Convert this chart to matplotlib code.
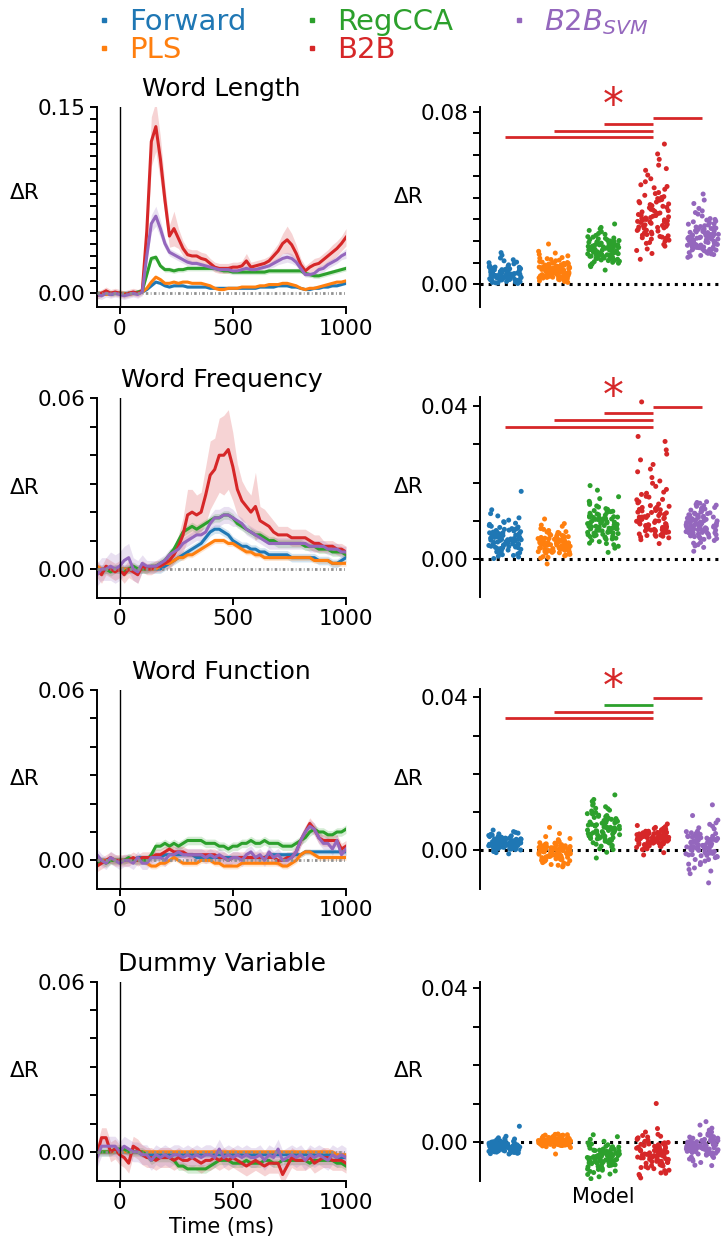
import numpy as np
import pandas as pd
import matplotlib
matplotlib.use('Agg')
import matplotlib.pyplot as plt
import seaborn as sns
from matplotlib.lines import Line2D

# ---------------- categories / labels ----------------
models = ['Forward', 'PLS', 'RegCCA', 'B2B', 'B2B_SVM']
legend_labels = ['Forward', 'PLS', 'RegCCA', 'B2B', r'$\mathit{B2B}_{\mathit{SVM}}$']
colors = ['#1f77b4', '#ff7f0e', '#2ca02c', '#d62728', '#9467bd']
titles = ['Word Length', 'Word Frequency', 'Word Function', 'Dummy Variable']

times = [-100, -80, -60, -40, -20, 0, 20, 40, 60, 80, 100,
         120, 140, 160, 180, 200, 220, 240, 260, 280, 300,
         320, 340, 360, 380, 400, 420, 440, 460, 480, 500,
         520, 540, 560, 580, 600, 620, 640, 660, 680, 700,
         720, 740, 760, 780, 800, 820, 840, 860, 880, 900,
         920, 940, 960, 980, 1000]

# ---------------- time courses (units of 1e-3 delta R) ----------------
wl_fwd = [0,0,0,-1,0,0,0,0,0,0,1, 3,6,9,8,6, 5,6,6,6,5, 5,5,5,5,4, 4,4,4,4,4, 4,4,4,4,4, 5,5,5,5,6, 6,6,5,5,4, 3,3,4,4,5, 5,6,6,7,8]
wl_pls = [0,0,-1,0,0,0,0,-1,0,0,1, 4,9,13,11,8, 8,9,8,9,9, 8,8,8,7,6, 4,3,3,4,4, 4,5,5,5,5, 6,6,7,7,7, 8,8,7,6,4, 3,4,4,5,6, 7,8,9,9,10]
wl_cca = [0,-1,1,0,0,0,-1,0,0,1,2, 15,28,29,22,19, 19,18,19,19,20, 20,20,20,20,20, 20,19,18,18,17, 17,17,17,17,17, 17,17,18,18,18, 18,18,18,18,18, 16,15,14,14,15, 16,17,18,19,20]
wl_b2b = [-2,0,2,0,1,0,-1,0,1,0,2, 50,122,134,108,75, 46,52,44,36,31, 30,30,28,27,24, 21,20,20,20,21, 21,22,26,21,22, 23,24,26,30,34, 40,43,39,32,23, 18,21,23,24,27, 30,33,36,40,45]
wl_svm = [-1,-2,0,-1,0,-1,-2,-1,0,-1,1, 30,56,62,52,40, 33,31,29,27,25, 24,24,23,22,21, 20,19,19,19,18, 18,19,20,19,19, 20,21,22,24,26, 28,29,28,25,20, 15,15,16,19,20, 23,25,27,30,32]
wl_b2b_sem = [3,3,3,3,3,3,3,3,3,3,3, 15,20,20,18,12, 9,14,8,6,5, 5,5,5,5,4, 4,4,4,4,4, 4,4,6,4,4, 4,4,4,5,6, 8,11,9,7,5, 4,4,5,5,5, 5,6,6,6,7]
wl_svm_sem = [3,3,3,3,3,3,3,3,3,3,3, 5,7,8,7,4, 3,3,3,3,3, 2,2,2,2,2, 2,2,2,2,2, 2,2,3,2,2, 2,2,2,3,3, 4,4,4,3,3, 2,2,2,3,3, 3,3,3,3,4]
wl_sems = [1.0, 1.0, 2.0, wl_b2b_sem, wl_svm_sem]

wf_fwd = [0,0,0,0,0,0,0,0,0,0,0, 0,0,0,0,1, 2,3,4,5,6, 7,8,9,11,13, 14,14,13,12,10, 9,8,8,7,7, 6,6,5,5,5, 5,5,4,4,4, 4,4,4,3,3, 3,2,2,3,4]
wf_pls = [1,0,0,0,0,0,0,0,0,0,0, 0,0,0,1,2, 2,3,4,4,5, 5,6,7,8,9, 10,10,10,9,9, 8,7,6,6,5, 5,4,4,4,4, 4,4,4,4,4, 4,4,3,3,3, 3,2,2,2,2]
wf_cca = [0,-1,0,-1,0,0,-1,0,1,0,0, 0,1,1,2,3, 5,7,10,13,14, 15,14,15,16,17, 18,18,19,19,18, 16,15,14,13,12, 12,11,10,10,9, 9,9,9,9,9, 8,8,8,7,7, 7,6,6,6,5]
wf_b2b = [0,-2,1,0,-1,0,-2,0,-1,-2,1, 0,0,1,1,2, 3,5,8,12,19, 20,19,20,26,33, 35,40,40,42,36, 28,24,22,20,22, 17,16,15,13,12, 12,12,11,11,11, 11,10,9,9,8, 8,8,7,7,6]
wf_svm = [-2,0,0,1,0,1,3,4,0,-1,2, 1,1,1,2,3, 5,6,7,9,10, 11,12,12,13,16, 18,18,19,19,18, 17,16,14,13,12, 11,10,9,9,9, 9,9,9,9,9, 9,8,8,8,8, 7,7,7,6,6]
wf_b2b_sem = [3,3,3,3,3,3,3,3,3,3,2, 2,2,2,2,2, 3,3,4,6,9, 8,7,7,10,12, 11,13,14,14,12, 9,7,6,6,12, 5,5,4,4,3, 3,3,3,3,3, 3,3,3,3,2, 2,2,2,2,2]
wf_svm_sem = [4,4,4,5,5,5,5,5,4,4,3, 2,2,2,2,2, 2,2,2,2,2, 2,2,2,2,3, 3,3,3,3,3, 2,2,2,2,2, 2,2,2,2,2, 2,2,2,2,2, 2,2,2,2,2, 2,2,2,2,2]
wf_sems = [1.5, 1.0, 1.5, wf_b2b_sem, wf_svm_sem]

wfn_fwd = [0,0,0,0,0,0,0,0,0,1,1, 1,1,1,1,2, 2,2,2,2,2, 2,1,1,1,1, 1,1,1,1,1, 1,1,1,1,1, 1,1,2,2,2, 2,2,2,2,2, 3,3,3,3,3, 3,3,3,3,3]
wfn_pls = [0,0,0,0,0,0,0,0,0,0,0, -1,-2,-2,-1,-1, 0,1,0,-1,-1, -1,-1,0,0,0, -1,-1,-2,-2,-2, -2,-1,-1,-1,-1, -1,-1,-1,-1,-1, -2,-2,-1,0,2, 3,3,2,1,1, 1,1,1,1,1]
wfn_cca = [-1,0,-1,0,0,0,0,1,0,0,0, 0,2,5,5,6, 5,6,5,6,7, 7,7,7,6,6, 6,5,5,4,5, 5,6,6,7,6, 6,7,6,6,6, 5,5,5,6,7, 8,10,11,10,10, 9,9,10,10,11]
wfn_b2b = [-2,-1,0,1,0,0,0,0,1,0,1, 1,1,2,2,3, 4,3,3,3,2, 2,2,2,2,2, 2,1,1,0,1, 1,1,1,1,1, 1,1,1,1,0, 0,1,1,3,7, 10,13,11,8,7, 7,7,7,4,5]
wfn_svm = [2,0,-1,1,0,-1,0,0,-1,1,-1, -1,1,1,1,0, 2,2,3,2,2, 2,2,2,1,2, 1,2,1,0,1, 1,0,2,3,1, 2,0,3,1,2, 0,0,1,3,7, 10,12,11,8,6, 6,4,7,2,4]
wfn_sems = [1.0, 1.0, 1.5, 2.0, 2.2]

dm_fwd = [0,0,0,0,0,0,0,0,0,0,-1, -1,-1,-1,-1,-1, -1,-1,-1,-1,-1, -1,-1,-1,-1,-1, -1,-1,-1,-1,-1, -1,-1,-1,-1,-1, -1,-1,-1,-1,-1, -1,-1,-1,-1,-1, -1,-1,-1,-1,-1, -1,-1,-2,-2,-2]
dm_pls = [0,0,0,0,0,0,0,0,0,0,0, 0,0,0,0,0, 0,0,0,0,0, 0,0,0,0,0, 0,0,0,0,0, 0,0,0,0,0, 0,0,0,0,0, 0,0,0,0,0, 0,0,0,0,0, 0,0,-1,-1,-1]
dm_cca = [0,0,0,0,1,1,1,0,0,0,0, -1,-3,-2,-2,-2, -2,-3,-5,-5,-6, -6,-6,-6,-6,-5, -4,-3,-3,-3,-4, -4,-4,-3,-4,-4, -4,-3,-3,-4,-4, -3,-3,-3,-3,-3, -3,-4,-3,-3,-3, -3,-3,-4,-4,-5]
dm_b2b = [-1,5,5,0,1,-1,-2,-4,2,1,-1, -2,-2,-3,-2,-2, -2,-3,-2,-3,-3, -2,-3,-4,-3,-3, -2,-3,-2,-3,-2, -3,-4,-5,-4,-3, -4,-5,-4,-4,-4, -8,-5,-2,-3,-3, -3,-2,-4,-3,-2, -2,-3,-3,-3,-4]
dm_svm = [-2,2,2,2,2,0,2,1,0,0,-1, -1,-3,-1,-2,-1, -2,-1,-1,-2,-1, -2,-1,-2,-1,-1, -2,1,-2,-1,-2, -1,-2,-1,-2,-2, -1,-3,-1,-2,1, -3,-2,-1,-2,-1, -3,-1,-2,-1,-2, -3,-1,-2,-1,-2]
dm_sems = [1.0, 0.8, 1.5, 3.5, 3.5]

# ---------------- per-subject scores (units of 1e-3 delta R) ----------------
wl_fwd_pts = [4.1,2.3,6.8,5.5,1.2,3.7,8.9,4.6,2.9,7.4,5.1,0.6,3.3,6.1,10.2,4.8,2.1,5.9,3.9,7.9,1.8,4.4,6.5,12.1,3.1,5.3,2.6,8.2,4.0,1.5,6.9,3.5,5.7,14.6,2.4,4.9,7.1,3.0,0.9,5.0,9.4,4.3,2.0,6.3,3.6,11.3,5.4,1.1,4.7,7.6,2.8,3.8,6.0,0.3,4.5,8.5,3.2,5.6,2.2,13.4,
              3.4,6.6,1.9,5.2,7.8,2.7,4.2,9.9,0.8,5.8,3.0,6.4,4.6,1.4,7.2,2.5,5.1,8.0,3.7,0.5,6.2,4.0,2.1,10.8,5.5,3.3,6.7,1.7,4.4,7.0]
wl_pls_pts = [6.2,4.1,8.8,3.0,10.5,7.1,5.4,2.2,9.6,6.7,12.3,4.8,7.9,1.5,5.9,8.2,3.6,11.1,6.5,4.4,9.1,2.8,7.4,5.1,13.8,6.0,3.3,8.5,10.0,4.6,7.7,0.8,6.9,5.6,15.2,3.9,8.0,6.3,2.5,9.9,5.0,7.2,18.6,4.2,6.6,11.8,3.1,8.7,5.3,7.5,1.9,10.8,6.1,4.9,9.3,3.4,14.4,5.8,7.0,2.0,
              5.5,8.4,3.8,9.7,6.4,2.6,7.3,12.0,4.5,8.9,6.0,1.2,10.2,5.2,7.6,3.5,9.0,6.8,13.1,4.0,7.9,5.7,2.9,8.1,6.3,11.4,4.7,7.0,3.2,9.5]
wl_cca_pts = [15.2,12.8,18.9,9.7,21.4,16.1,13.5,24.3,11.2,17.6,14.4,19.8,8.1,15.9,22.6,13.0,17.1,10.4,20.2,16.7,12.1,27.9,14.9,18.3,9.2,15.5,21.0,13.8,16.4,11.7,19.3,6.5,17.9,14.1,23.5,15.0,12.5,18.6,10.9,16.9,20.7,13.3,25.6,15.7,11.5,17.3,14.6,19.0,8.7,16.2,22.0,12.9,18.0,14.0,20.5,10.1,15.4,17.8,13.6,24.9,
              14.2,17.5,11.9,19.6,15.8,13.1,21.8,16.5,10.6,18.2,14.8,12.3,20.0,16.0,9.5,17.0,13.9,23.1,15.1,18.8,12.0,16.6,19.4,14.5,11.0,17.7,15.3,21.2,13.4,26.3]
wl_b2b_pts = [31.2,25.4,38.9,22.1,44.7,29.8,35.6,19.3,27.5,41.2,33.0,17.6,48.9,26.3,36.4,23.8,30.5,55.2,20.9,34.1,28.6,39.7,14.2,32.8,24.6,46.1,29.1,37.2,21.5,60.4,27.0,33.7,18.4,42.5,25.9,31.8,35.0,16.3,28.2,50.6,23.3,38.1,30.0,26.8,44.0,11.5,34.7,22.7,29.4,57.9,24.1,36.9,19.8,32.3,40.6,27.7,65.0,21.2,30.9,52.8,
              33.5,26.1,40.2,20.4,29.0,36.1,24.9,45.3,31.5,18.9,38.3,27.2,34.4,22.4,47.5,30.2,25.0,42.0,28.8,35.4,15.6,32.0,39.2,23.0,30.7,53.6,26.5,37.7,21.8,29.6]
wl_svm_pts = [21.5,17.2,25.8,14.6,28.9,19.9,23.4,16.1,31.6,20.7,18.4,26.7,13.3,22.2,35.1,19.0,24.6,15.5,21.0,29.7,17.8,23.9,12.4,20.3,27.4,18.9,33.2,16.6,22.8,25.1,14.0,19.5,30.4,21.8,17.5,24.2,15.8,41.8,20.1,26.2,18.1,22.5,13.7,28.0,19.3,23.1,16.9,37.4,21.2,25.5,14.9,20.6,27.8,18.7,24.0,15.2,22.0,32.5,17.0,39.0,
              20.4,24.8,16.3,27.1,19.6,22.9,14.3,30.0,21.3,18.0,25.4,17.1,23.6,13.0,28.4,20.0,26.5,15.9,22.3,34.0,19.2,24.4,16.0,21.7,29.2,18.3,23.0,14.6,26.0,20.9]

wf_fwd_pts = [5.8,3.2,8.1,4.5,1.0,6.9,10.2,2.6,5.1,7.5,3.9,12.9,6.2,0.2,4.8,8.8,2.1,5.5,7.0,3.5,9.4,4.2,6.6,1.7,11.3,5.0,3.0,7.8,4.0,17.7,6.0,2.4,5.3,8.4,3.7,0.6,6.4,9.8,4.6,2.9,7.2,5.7,1.4,4.3,6.8,10.8,3.4,5.2,8.0,2.2,6.1,4.9,3.1,7.6,1.9,5.4,9.1,4.1,6.5,3.6,
              4.4,6.7,2.8,8.6,5.0,3.3,7.1,1.2,5.9,9.6,4.0,6.3,2.0,5.6,7.4,3.8,0.8,6.0,4.7,11.9,5.3,2.7,7.9,4.2,6.9,3.1,5.1,8.3,1.6,6.2]
wf_pls_pts = [4.1,2.5,5.9,3.3,1.4,6.8,4.6,2.0,7.5,3.8,0.7,5.2,4.3,2.9,8.6,3.6,5.5,1.8,4.8,10.5,3.0,6.2,2.3,4.0,-1.2,5.0,3.5,7.1,2.7,4.5,1.1,6.0,3.9,5.7,2.1,9.3,4.2,3.1,0.3,5.4,2.6,4.7,6.5,3.4,1.6,5.1,3.7,8.0,2.4,4.4,0.9,6.3,3.2,5.3,2.8,4.9,7.8,3.0,1.9,4.6,
              3.6,5.2,2.2,6.1,4.3,1.3,4.9,3.0,7.2,2.6,5.6,3.9,0.5,4.6,6.6,3.3,2.0,5.0,4.1,8.9,2.9,4.5,6.0,1.7,3.8,5.4,2.4,4.8,3.5,7.0]
wf_cca_pts = [8.7,6.1,11.4,4.9,9.8,13.6,7.3,10.5,5.5,12.2,8.2,3.4,9.4,15.1,6.8,10.9,7.7,19.2,8.9,4.2,11.8,6.5,9.1,13.0,7.0,1.8,10.2,8.4,5.8,12.7,9.6,7.5,14.3,6.3,10.7,8.0,4.6,11.1,9.3,16.3,7.9,5.2,10.0,12.4,8.6,6.7,9.0,11.6,2.9,10.3,7.2,13.9,8.1,5.9,9.7,11.0,6.9,18.0,8.5,10.6,
              9.2,7.6,11.0,5.3,8.8,12.5,6.4,10.1,8.3,14.7,7.0,9.9,4.1,11.5,8.0,6.0,10.6,13.2,7.4,9.5,3.8,8.6,12.0,6.8,10.4,7.9,15.8,9.0,5.6,11.3]
wf_b2b_pts = [12.1,8.3,15.6,6.9,10.4,19.8,7.5,13.2,9.1,24.7,11.0,6.2,16.9,8.8,14.0,5.1,10.9,28.5,7.8,12.6,9.5,21.3,6.6,11.7,15.0,8.1,32.0,10.2,7.1,13.8,18.2,9.0,6.0,12.9,25.9,8.6,11.4,4.1,14.7,7.4,10.0,17.5,9.8,30.7,6.4,12.3,8.0,22.8,11.1,7.0,13.5,9.3,41.0,10.6,16.2,8.5,5.6,20.4,11.9,7.7,
              10.8,7.9,13.0,6.3,9.6,16.4,8.4,12.2,5.8,11.4,19.0,7.2,10.0,14.4,8.9,6.7,12.7,9.2,23.5,7.6,11.0,15.5,8.2,6.0,13.6,9.9,27.4,7.3,10.5,17.2]
wf_svm_pts = [8.6,6.4,11.2,4.9,9.7,13.5,7.3,10.4,5.6,12.8,8.1,3.8,9.3,14.6,6.9,10.9,7.7,12.1,8.9,5.2,11.6,6.1,9.0,13.1,7.0,2.1,10.1,8.4,5.9,12.5,9.6,7.6,14.1,6.6,10.6,8.0,4.4,11.0,9.2,15.0,7.9,5.4,10.0,12.3,8.7,6.8,9.4,11.4,3.1,10.3,7.2,13.8,8.2,6.0,9.8,11.8,6.9,14.3,8.5,10.7,
              9.1,7.0,11.9,5.5,8.3,12.9,6.3,10.2,8.8,14.0,7.4,9.6,4.2,11.3,8.0,6.5,10.8,13.3,7.7,9.4,3.5,8.6,12.0,6.9,10.5,7.9,14.8,9.0,5.8,11.5]

wfn_fwd_pts = [1.9,0.8,2.7,1.4,3.5,0.2,2.2,1.1,4.3,1.7,2.9,0.5,2.0,3.2,1.3,-0.9,2.5,1.6,3.9,0.9,2.3,1.0,5.3,1.8,2.6,0.4,3.0,1.5,2.1,4.7,0.7,1.2,2.8,1.9,3.4,0.1,2.4,1.7,3.7,1.0,2.0,0.6,2.9,1.4,4.0,2.2,0.3,1.8,3.1,1.1,2.5,-0.3,1.6,3.6,2.1,0.9,2.7,1.3,4.5,1.9,
               2.3,1.2,3.1,0.6,2.6,1.8,3.8,1.0,2.0,4.9,1.5,2.8,0.3,2.2,1.6,3.3,0.9,2.4,1.3,4.2,2.0,0.5,2.9,1.7,3.5,1.1,2.5,-0.6,1.9,3.0]
wfn_pls_pts = [0.2,-1.5,1.1,-0.6,-2.8,0.9,-0.2,2.0,-1.1,-3.5,0.5,-0.8,1.6,-2.1,0.0,-4.3,0.7,-1.3,2.8,-0.4,-2.5,1.3,-0.9,0.3,-3.0,1.9,-1.7,0.6,-0.1,3.6,-2.3,0.4,-1.0,1.0,-3.9,0.1,-0.7,2.3,-1.9,0.8,-0.3,6.0,-2.6,0.2,-1.4,1.4,-0.5,-3.2,0.6,-1.2,1.8,-0.2,-2.0,0.9,-4.0,0.0,1.2,-1.6,4.4,-0.8,
               -0.5,1.0,-2.2,0.3,-1.2,2.4,-0.9,0.6,-3.3,0.0,1.5,-1.8,0.8,-0.3,-2.7,1.2,-0.6,0.4,-1.5,3.1,-1.0,0.2,-2.4,0.9,-0.2,1.7,-3.7,0.5,-0.7,-1.4]
wfn_cca_pts = [5.8,3.1,8.4,1.9,6.7,10.9,4.5,7.3,2.6,9.5,5.2,0.4,6.1,12.2,3.8,7.9,5.0,14.5,6.4,2.2,8.8,4.1,6.9,11.4,3.5,-2.0,7.6,5.5,1.3,9.9,6.3,4.7,12.8,3.0,8.1,5.9,0.9,7.1,4.3,10.3,6.6,2.9,8.6,5.3,3.3,7.4,-0.5,6.0,9.1,4.9,2.4,11.0,5.6,3.6,7.7,6.2,1.6,8.3,4.4,13.3,
               6.5,4.0,7.8,2.8,5.4,9.2,3.7,6.8,1.1,8.0,5.1,3.2,10.5,6.0,4.6,7.2,2.0,5.7,8.9,4.2,6.4,0.2,7.5,5.0,3.4,9.6,6.1,4.8,11.8,5.3]
wfn_b2b_pts = [3.2,1.8,4.4,2.5,5.3,3.8,1.1,2.9,4.8,3.5,6.9,2.1,3.0,4.1,0.6,2.7,5.8,3.3,1.5,4.6,2.3,3.9,-1.2,3.1,5.0,2.0,3.6,4.3,1.3,2.8,6.2,3.4,0.2,4.0,2.6,5.5,3.7,1.9,4.9,2.4,3.0,6.0,1.6,3.5,4.7,2.2,-0.6,3.8,5.2,2.9,4.2,1.0,3.3,5.7,2.5,4.5,3.1,1.7,3.9,2.0,
               2.7,3.9,1.4,3.4,4.8,2.2,3.0,5.4,1.9,3.7,2.6,4.3,0.8,3.2,4.0,2.4,6.5,3.5,1.2,2.9,4.6,3.1,1.8,3.8,5.0,2.1,3.3,0.4,4.1,2.8]
wfn_svm_pts = [2.1,-0.8,3.9,0.5,5.6,-2.4,1.4,3.0,-1.3,7.2,2.6,-3.7,1.0,4.4,0.2,-0.5,2.9,9.1,1.8,-1.9,3.5,0.7,-6.1,2.3,4.9,-0.2,1.6,3.2,-4.6,2.0,6.3,0.9,-1.1,2.7,11.9,1.2,-2.8,3.7,0.4,5.0,-0.7,2.4,1.5,-8.5,3.3,0.0,4.1,1.9,-1.6,2.8,6.8,0.6,-3.2,2.2,3.6,-0.4,1.3,4.6,0.8,-5.4,
               1.7,-0.3,3.1,0.9,4.2,-1.7,2.5,0.3,-0.9,5.9,1.9,-2.4,2.8,0.6,3.8,-1.2,1.1,7.9,0.0,2.2,-3.6,1.4,4.4,-0.6,2.7,0.5,-5.0,3.4,1.0,-1.4]

dm_fwd_pts = [-1.2,-0.4,-2.1,-0.8,0.3,-1.6,-2.7,-0.6,-1.0,0.9,-1.9,-0.2,-1.4,-2.4,-0.9,1.6,-1.1,-0.5,-2.0,-1.3,0.1,-1.7,-0.7,-2.9,-1.0,4.2,-0.3,-1.5,-2.2,-0.8,0.5,-1.2,-1.8,-0.1,-2.5,-1.0,-0.6,1.2,-1.4,-2.0,-0.9,-0.2,-1.6,-2.6,-0.5,0.2,-1.1,-1.9,-0.7,-3.0,-1.3,0.7,-0.4,-1.7,-2.3,-0.9,-1.5,-0.1,-2.1,-1.0,
              -0.8,-1.6,-0.3,-2.2,-1.1,0.4,-1.4,-2.8,-0.6,-1.0,-1.9,0.0,-1.3,-2.4,-0.7,-1.7,-0.2,-1.1,-2.0,1.0,-0.9,-1.5,-0.4,-2.6,-1.2,-0.5,-1.8,0.6,-1.0,-2.2]
dm_pls_pts = [0.1,-0.5,0.7,-0.2,1.2,0.4,-0.8,0.0,1.8,-0.3,0.5,-1.1,0.9,0.2,-0.6,1.5,-0.1,0.6,-3.0,0.3,1.0,-0.4,0.8,2.2,-0.2,0.1,-0.9,1.3,0.4,-0.5,0.6,0.0,1.7,-0.3,0.9,-0.7,0.2,1.1,-0.1,0.5,2.0,-0.6,0.3,-0.2,1.4,0.7,-1.3,0.1,0.8,-0.4,1.6,0.0,-0.8,0.6,1.0,-0.2,0.4,1.9,-0.5,0.2,
              0.3,-0.2,0.9,0.1,-0.6,1.4,0.5,-0.3,0.7,1.9,-0.1,0.4,-1.0,0.8,0.2,1.2,-0.4,0.6,0.0,1.6,-0.7,0.3,1.0,-0.2,0.5,2.1,0.1,-0.5,0.9,0.4]
dm_cca_pts = [-4.1,-2.3,-6.0,-1.2,-3.5,-7.4,-4.8,0.3,-2.9,-5.3,-3.8,-8.2,-1.9,-4.5,-6.6,-3.1,1.5,-5.0,-2.6,-4.3,-7.0,-0.8,-3.4,-5.8,-4.0,-9.4,-2.0,-4.7,-3.0,-6.3,-1.5,-5.5,-3.7,2.0,-4.4,-6.9,-2.7,-5.1,-0.4,-3.9,-7.8,-4.2,-2.4,-5.7,-3.3,-1.0,-4.9,-6.1,-2.8,-8.9,-3.6,-0.1,-5.2,-4.6,-2.1,-6.5,-3.2,-1.7,-4.1,-7.2,
              -3.6,-5.1,-1.8,-4.3,-6.8,-2.5,-3.9,-0.6,-5.5,-4.0,-2.2,-7.5,-3.1,-4.8,-1.3,-5.9,-3.4,-2.7,-6.2,-4.4,0.8,-3.8,-5.3,-2.0,-4.6,-8.3,-3.0,-1.1,-5.0,-3.3]
dm_b2b_pts = [-3.1,-0.9,-5.2,0.8,-2.4,-6.8,-1.5,-4.0,2.1,-3.6,-7.9,-0.3,-2.8,-5.6,1.4,-4.4,-1.2,-8.6,-2.0,0.3,-3.8,-6.1,-0.6,-4.9,3.6,-2.6,-1.8,-7.3,-3.3,10.1,-5.0,-0.1,-2.2,-4.6,1.0,-3.0,-9.2,-1.4,-5.9,-2.9,0.6,-3.9,-6.5,-1.0,-4.2,-2.5,2.7,-5.4,-1.7,-3.4,-8.0,-0.5,-2.7,-4.7,1.8,-3.2,-6.3,-1.1,-4.0,-2.1,
              -2.7,-4.8,-0.4,-3.5,-6.0,-1.9,-3.0,1.2,-5.1,-2.3,-7.2,-3.8,0.0,-4.4,-2.0,-5.7,-1.3,-3.3,-8.3,-2.5,1.6,-4.1,-0.8,-3.6,-6.6,-2.9,-1.6,-4.9,-0.2,-3.1]
dm_svm_pts = [-1.1,0.6,-2.4,-0.3,1.9,-1.7,-3.5,0.1,-0.9,2.8,-2.0,-0.5,-4.3,1.2,-1.4,-0.1,-2.8,3.7,-0.7,-1.9,0.4,-3.1,-1.2,5.4,-0.4,-2.2,1.5,-5.9,-0.8,0.8,-1.6,-2.6,2.3,-0.2,-1.0,-3.8,0.9,-1.5,4.5,-0.6,-2.5,0.2,-1.3,-4.8,1.1,-0.9,-2.1,3.2,-0.5,-1.8,0.0,-3.3,-1.0,1.7,-2.7,-0.3,-6.0,0.5,-1.4,-2.3,
              -0.8,-2.0,0.3,-1.3,-3.0,1.4,-0.5,-2.3,-1.1,2.0,-1.7,-0.2,-3.9,0.8,-1.5,-0.7,-2.6,2.7,-1.0,-0.3,-4.4,0.5,-1.9,-0.6,-2.9,1.1,-1.2,-5.2,0.1,-1.6]

# ---------------- significance bars (x from, x to, height) ----------------
sig_from = [[0, 1, 2, 3], [0, 1, 2, 3], [0, 1, 2, 3], []]
sig_to = [[3, 3, 3, 4], [3, 3, 3, 4], [3, 3, 3, 4], []]
sig_y = [[0.0684, 0.0710, 0.0742, 0.0773],
         [0.0345, 0.0362, 0.0380, 0.0397],
         [0.0345, 0.0362, 0.0380, 0.0397], []]
sig_col = [['#d62728'] * 4, ['#d62728'] * 4,
           ['#d62728', '#d62728', '#2ca02c', '#d62728'], []]
star_y = [0.0771, 0.0391, 0.0392, None]

curves = [[wl_fwd, wl_pls, wl_cca, wl_b2b, wl_svm],
          [wf_fwd, wf_pls, wf_cca, wf_b2b, wf_svm],
          [wfn_fwd, wfn_pls, wfn_cca, wfn_b2b, wfn_svm],
          [dm_fwd, dm_pls, dm_cca, dm_b2b, dm_svm]]
curve_sems = [wl_sems, wf_sems, wfn_sems, dm_sems]
points = [[wl_fwd_pts, wl_pls_pts, wl_cca_pts, wl_b2b_pts, wl_svm_pts],
          [wf_fwd_pts, wf_pls_pts, wf_cca_pts, wf_b2b_pts, wf_svm_pts],
          [wfn_fwd_pts, wfn_pls_pts, wfn_cca_pts, wfn_b2b_pts, wfn_svm_pts],
          [dm_fwd_pts, dm_pls_pts, dm_cca_pts, dm_b2b_pts, dm_svm_pts]]

# ---------------- layout ----------------
plt.rcParams.update({
    'font.family': ['DejaVu Sans'],
    'axes.linewidth': 1.4,
    'xtick.major.width': 1.4, 'ytick.major.width': 1.4,
    'xtick.major.size': 5, 'ytick.major.size': 5,
    'xtick.labelsize': 15.5, 'ytick.labelsize': 15.5,
})

W, H = 723, 1248
fig = plt.figure(figsize=(W / 100, H / 100), dpi=100)


def rect(x0, x1, y0, y1):
    return [x0 / W, 1 - y1 / H, (x1 - x0) / W, (y1 - y0) / H]


left_rows = [(106.7, 306.7), (398.3, 597.5), (690, 888.5), (981.7, 1180.8)]
right_rows = [(107, 306.7), (397.3, 597.3), (689.3, 889), (981.7, 1181)]
left_ylims = [(-0.0108, 0.15), (-0.010, 0.06), (-0.0099, 0.06), (-0.0102, 0.06)]
left_tops = [0.15, 0.06, 0.06, 0.06]
right_ylims = [(-0.0105, 0.0822), (-0.0099, 0.0422), (-0.0101, 0.0421), (-0.010, 0.0417)]
right_tops = [0.08, 0.04, 0.04, 0.04]
left_lab_y = [0.57, 0.55, 0.55, 0.55]


def set_yticks(ax, top):
    ticks = np.round(np.arange(0, top + 1e-9, 0.01), 2)
    ax.set_yticks(ticks)
    labels = [''] * len(ticks)
    labels[0] = '0.00'
    labels[-1] = '%.2f' % top
    ax.set_yticklabels(labels)


for r in range(4):
    # ---------- left: time courses ----------
    ax = fig.add_axes(rect(97, 346, *left_rows[r]))
    t = np.array(times)
    for i in range(5):
        m = np.array(curves[r][i], dtype=float) * 1e-3
        s = np.array(curve_sems[r][i], dtype=float) * 1e-3
        ax.fill_between(t, m - s, m + s, color=colors[i], alpha=0.2, lw=0)
        ax.plot(t, m, color=colors[i], lw=2.2)
    ax.axvline(0, color='k', lw=1)
    ax.axhline(0, color='#8f8f8f', lw=2.0, ls=(0, (0.9, 0.85, 0.3, 0.85)), zorder=3)
    ax.set_xlim(-100, 1000)
    ax.set_ylim(*left_ylims[r])
    ax.set_xticks([0, 500, 1000])
    set_yticks(ax, left_tops[r])
    ax.spines['top'].set_visible(False)
    ax.spines['right'].set_visible(False)
    ax.set_title(titles[r], fontsize=18, pad=8)
    ax.set_ylabel('ΔR', rotation=0, fontsize=15.5, ha='center', va='center')
    ax.yaxis.set_label_coords(-72 / 249, left_lab_y[r])
    if r == 3:
        ax.set_xlabel('Time (ms)', fontsize=15, labelpad=3)

    # ---------- right: per-subject strips ----------
    axr = fig.add_axes(rect(480.3, 726.8, *right_rows[r]))
    vals, labs = [], []
    for i in range(5):
        vals += [v * 1e-3 for v in points[r][i]]
        labs += [models[i]] * len(points[r][i])
    df = pd.DataFrame({'model': labs, 'value': vals})
    axr.axhline(0, color='k', lw=2.2, ls=':', zorder=0)
    sns.stripplot(data=df, x='model', y='value', hue='model', order=models,
                  hue_order=models, palette=colors, legend=False,
                  jitter=0.33, size=3.6, linewidth=0, ax=axr)
    axr.set_xlim(-0.5, 4.5)
    axr.set_ylim(*right_ylims[r])
    set_yticks(axr, right_tops[r])
    axr.set_xticks([])
    for sp in ['top', 'right', 'bottom']:
        axr.spines[sp].set_visible(False)
    axr.set_ylabel('ΔR', rotation=0, fontsize=15.5, ha='center', va='center')
    axr.yaxis.set_label_coords(-72 / 246.5, 0.55)
    axr.set_xlabel('Model' if r == 3 else '', fontsize=15)
    for a, b, y, c in zip(sig_from[r], sig_to[r], sig_y[r], sig_col[r]):
        axr.plot([a, b], [y, y], color=c, lw=2, clip_on=False, solid_capstyle='butt')
    if star_y[r] is not None:
        axr.text(2.2, star_y[r], '*', color='#d62728', fontsize=30,
                 ha='center', va='baseline', clip_on=False)

# ---------------- legend ----------------
handles = [Line2D([], [], ls='', marker='s', markersize=2.5, color=c) for c in colors]
leg = fig.legend(handles, legend_labels, ncol=3, loc='upper left',
                 bbox_to_anchor=(92.3 / W, 1 - 7 / H), frameon=False,
                 fontsize=21, handlelength=0.8, handletextpad=0.45,
                 columnspacing=1.86, labelspacing=0.0, borderpad=0,
                 borderaxespad=0)
for txt, c in zip(leg.get_texts(), colors):
    txt.set_color(c)

fig.savefig('out.png', dpi=100)
